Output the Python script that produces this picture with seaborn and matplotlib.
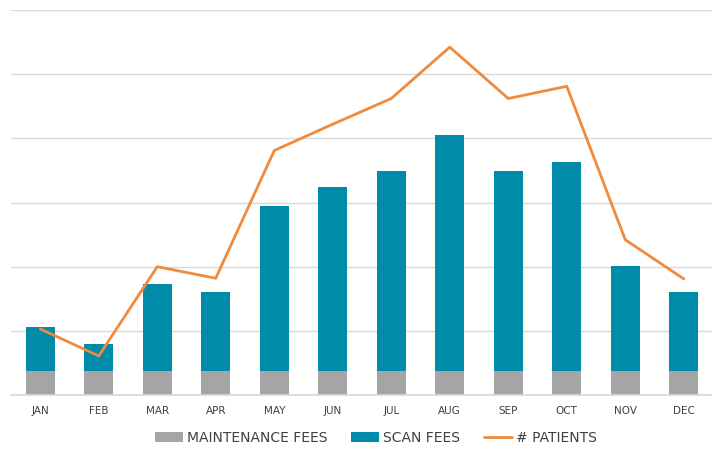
import numpy as np
import pandas as pd
import seaborn as sns
import matplotlib.pyplot as plt
from matplotlib.patches import Patch
from matplotlib.lines import Line2D

months = ["JAN", "FEB", "MAR", "APR", "MAY", "JUN",
          "JUL", "AUG", "SEP", "OCT", "NOV", "DEC"]
maintenance_fees = [0.375] * 12
scan_fees = [0.69, 0.42, 1.36, 1.23, 2.57, 2.86, 3.12, 3.68, 3.12, 3.26, 1.63, 1.23]
patients = [1.03, 0.61, 2.0, 1.82, 3.81, 4.22, 4.62, 5.42, 4.62, 4.81, 2.42, 1.81]

df = pd.DataFrame({"month": months, "maint": maintenance_fees, "scan": scan_fees})
df["total"] = df["maint"] + df["scan"]

sns.set_theme(style="white")
plt.rcParams['font.family'] = ['DejaVu Sans']

teal = "#008BA9"
gray = "#A5A5A5"
orange = "#F08A3C"

fig = plt.figure(figsize=(7.12, 4.5), dpi=100)
ax = fig.add_axes([0.0155, 0.122, 0.99, 0.856])

sns.barplot(data=df, x="month", y="total", color=teal, width=0.5, ax=ax,
            saturation=1, linewidth=0)
sns.barplot(data=df, x="month", y="maint", color=gray, width=0.5, ax=ax,
            saturation=1, linewidth=0)
sns.lineplot(x=np.arange(12), y=patients, color=orange, lw=2, ax=ax, sort=False)

ax.set_ylim(0, 6)
ax.set_xlim(-0.5, 11.55)
ax.set_yticks(np.arange(0, 7, 1))
ax.yaxis.grid(True, color="#D9D9D9", lw=1)
ax.set_axisbelow(True)
ax.set_yticklabels([])
ax.tick_params(axis="y", length=0)
ax.tick_params(axis="x", length=0, labelsize=7.5, labelcolor="#404040", pad=8)
ax.set_xlabel("")
ax.set_ylabel("")
for s in ["top", "right", "left"]:
    ax.spines[s].set_visible(False)
ax.spines["bottom"].set_color("#D9D9D9")

handles = [Patch(color=gray, lw=0), Patch(color=teal, lw=0),
           Line2D([], [], color=orange, lw=2)]
labels = ["MAINTENANCE FEES", "SCAN FEES", "# PATIENTS"]
fig.legend(handles, labels, loc="center", bbox_to_anchor=(0.528, 0.027), ncol=3,
           frameon=False, fontsize=10, handlelength=2.0, handleheight=0.7,
           handletextpad=0.3, columnspacing=1.7, labelcolor="#404040")

fig.savefig("out.png", dpi=100)
